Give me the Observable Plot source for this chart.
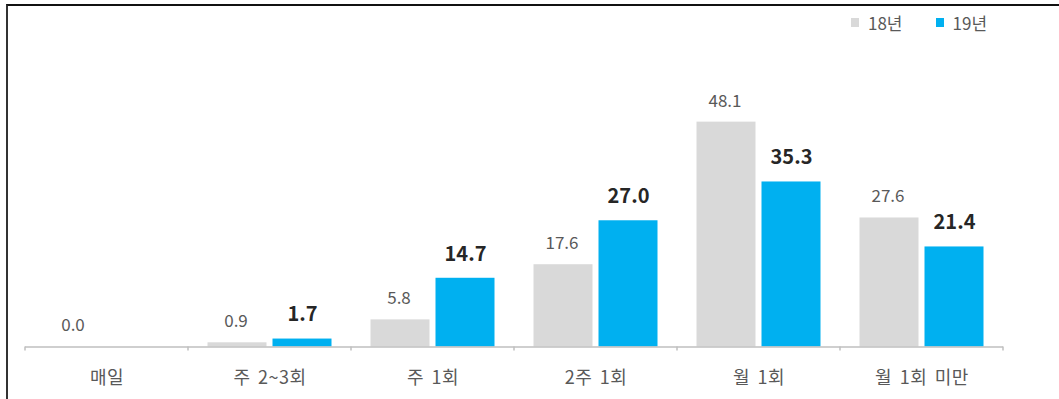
<!DOCTYPE html>
<html><head><meta charset="utf-8">
<script src="https://cdn.jsdelivr.net/npm/d3@7"></script>
<script src="https://cdn.jsdelivr.net/npm/@observablehq/plot@0.6"></script>
<style>
body{margin:0;background:#fff;font-family:"Noto Sans CJK KR","Noto Sans",sans-serif;}
#wrap{position:relative;width:1059px;height:399px;overflow:hidden;}
#frame{position:absolute;left:6px;top:4px;width:1100px;height:450px;border-top:2px solid #111;border-left:2px solid #333;pointer-events:none;}
#chart{position:absolute;left:0;top:0;}
#chart g[aria-label="x-axis tick label"] text{letter-spacing:0.5px;word-spacing:3px;}
#legend{position:absolute;top:10px;left:851px;display:flex;align-items:center;font-size:17px;color:#595959;}
#legend .sw{display:inline-block;width:8px;height:9px;margin-right:9px;}
#legend .item{display:flex;align-items:center;margin-right:33px;}
</style>
</head><body>
<div id="wrap"><div id="chart"></div><div id="frame"></div><div id="legend"></div></div>
<script>
const categories = ["매일", "주 2~3회", "주 1회", "2주 1회", "월 1회", "월 1회 미만"];
const seriesNames = ["18년", "19년"];
const values18 = [0.0, 0.9, 5.8, 17.6, 48.1, 27.6];
const values19 = [null, 1.7, 14.7, 27.0, 35.3, 21.4];
const colors = ["#d9d9d9", "#00b0f0"];

const rows18 = categories.map((c, i) => ({cat: c, v: values18[i]})).filter(d => d.v != null);
const rows19 = categories.map((c, i) => ({cat: c, v: values19[i]})).filter(d => d.v != null);

function boundaryTicks(index, scales, values, dimensions) {
  const x = scales.x, y0 = scales.y(0);
  const bw = x.bandwidth ? x.bandwidth() : (x(categories[1]) - x(categories[0]));
  const edges = categories.map(c => x(c)).concat([x(categories[categories.length - 1]) + bw]);
  const g = d3.create("svg:g").attr("stroke", "#bfbfbf").attr("stroke-width", 1.5);
  for (const e of edges) g.append("line").attr("x1", e).attr("x2", e).attr("y1", y0).attr("y2", y0 + 4);
  return g.node();
}

const chart = Plot.plot({
  width: 1059,
  height: 399,
  marginLeft: 25,
  marginRight: 56,
  marginTop: 66,
  marginBottom: 52.5,
  style: {fontFamily: '"Noto Sans CJK KR", "Noto Sans", sans-serif', background: "transparent"},
  x: {domain: categories, padding: 0},
  y: {domain: [0, 60], axis: null},
  marks: [
    Plot.barY(rows18, {x: "cat", y: "v", fill: colors[0], insetLeft: 19.5, insetRight: 84.5}),
    Plot.barY(rows19, {x: "cat", y: "v", fill: colors[1], insetLeft: 84.5, insetRight: 19.5}),
    Plot.ruleY([0], {stroke: "#bfbfbf", strokeWidth: 1.5}),
    boundaryTicks,
    Plot.text(rows18, {x: "cat", y: "v", text: d => d.v.toFixed(1), dx: -34, dy: -21, fill: "#595959", fontSize: 17}),
    Plot.text(rows19, {x: "cat", y: "v", text: d => d.v.toFixed(1), dx: 32.5, dy: -24, fill: "#262626", fontSize: 20, fontWeight: "bold"}),
    Plot.axisX({tickSize: 0, tickPadding: 24, fontSize: 18, color: "#595959", label: null})
  ]
});
document.getElementById("chart").appendChild(chart);

const legend = document.getElementById("legend");
seriesNames.forEach((n, i) => {
  const it = document.createElement("span");
  it.className = "item";
  const sw = document.createElement("span");
  sw.className = "sw";
  sw.style.background = colors[i];
  it.appendChild(sw);
  it.appendChild(document.createTextNode(n));
  legend.appendChild(it);
});
</script>
</body></html>
